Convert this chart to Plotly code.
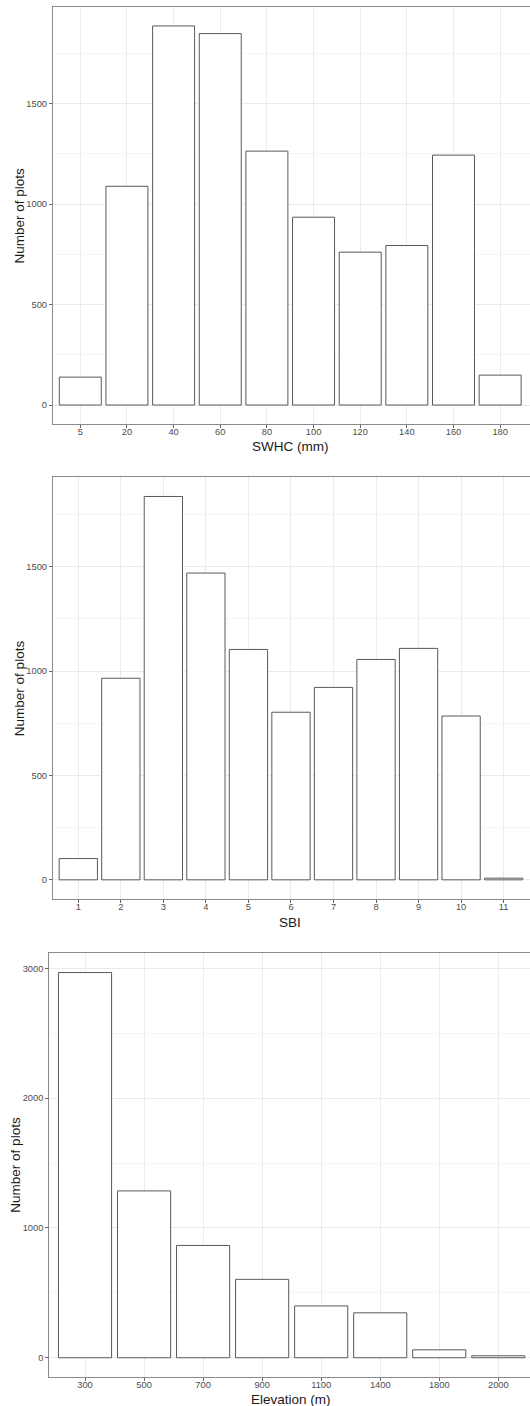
import plotly.graph_objects as go

# ---- data ----
swhc_cats = ["5", "20", "40", "60", "80", "100", "120", "140", "160", "180"]
swhc_counts = [139, 1089, 1887, 1849, 1264, 935, 761, 794, 1244, 149]

sbi_cats = ["1", "2", "3", "4", "5", "6", "7", "8", "9", "10", "11"]
sbi_counts = [102, 966, 1837, 1470, 1104, 803, 922, 1056, 1109, 785, 8]

elev_cats = ["300", "500", "700", "900", "1100", "1400", "1800", "2000"]
elev_counts = [2967, 1285, 865, 604, 399, 346, 61, 15]

y_title = "Number of plots"
x_titles = ["SWHC (mm)", "SBI", "Elevation (m)"]

# ---- layout geometry (pixels) ----
W, H = 530, 1406
FONT = "Liberation Sans, Arial, sans-serif"
TICK_COL = "#4d4d4d"
GRID = "#ebebeb"
MINOR = "#f5f5f5"
BORDER = "#8a8a8a"

panels = [
    dict(cats=swhc_cats, vals=swhc_counts, left=53, top=7, bottom=424,
         xr=[-0.585, 9.64], dtick=500, mdtick=250, title=x_titles[0],
         xt_y=446, yt_x=19, xt_x=290),
    dict(cats=sbi_cats, vals=sbi_counts, left=53, top=477.3, bottom=899,
         xr=[-0.595, 10.62], dtick=500, mdtick=250, title=x_titles[1],
         xt_y=922.5, yt_x=19, xt_x=290),
    dict(cats=elev_cats, vals=elev_counts, left=49.3, top=953.3, bottom=1377,
         xr=[-0.605, 7.537], dtick=1000, mdtick=500, title=x_titles[2],
         xt_y=1399.5, yt_x=15.5, xt_x=291),
]

fig = go.Figure()
annotations = []
for i, p in enumerate(panels, start=1):
    xa = "x" if i == 1 else f"x{i}"
    ya = "y" if i == 1 else f"y{i}"
    fig.add_trace(go.Bar(
        x=p["cats"], y=p["vals"], xaxis=xa, yaxis=ya, width=0.9,
        marker=dict(color="white", line=dict(color="#595959", width=1)),
        showlegend=False, hoverinfo="x+y",
    ))
    vmax = max(p["vals"])
    pad = 0.05 * vmax
    xkey = "xaxis" if i == 1 else f"xaxis{i}"
    ykey = "yaxis" if i == 1 else f"yaxis{i}"
    fig.update_layout(**{
        xkey: dict(
            domain=[p["left"] / W, 1.0], anchor=ya, type="category",
            range=p["xr"], showline=True, mirror=True, linecolor=BORDER,
            linewidth=1.2, ticks="outside", ticklen=3, tickcolor="#666",
            tickwidth=0.8, showgrid=True, gridcolor=GRID, gridwidth=1,
            tickfont=dict(family=FONT, size=9.3, color=TICK_COL),
            ticklabelstandoff=-4,
            zeroline=False, fixedrange=True,
        ),
        ykey: dict(
            domain=[1 - p["bottom"] / H, 1 - p["top"] / H], anchor=xa,
            range=[-pad, vmax + pad], dtick=p["dtick"], tick0=0,
            showline=True, mirror=False, linecolor=BORDER, linewidth=1.2,
            ticks="outside", ticklen=3, tickcolor="#666", tickwidth=0.8,
            showgrid=True, gridcolor=GRID, gridwidth=1,
            minor=dict(dtick=p["mdtick"], tick0=0, showgrid=True,
                       gridcolor=MINOR, gridwidth=0.6, ticks=""),
            tickfont=dict(family=FONT, size=9.3, color=TICK_COL),
            zeroline=False, fixedrange=True,
        ),
    })
    annotations.append(dict(
        text=p["title"], xref="paper", yref="paper",
        x=p["xt_x"] / W, y=1 - p["xt_y"] / H, xanchor="center",
        yanchor="middle", showarrow=False,
        font=dict(family=FONT, size=13.5, color="#1a1a1a"),
    ))
    annotations.append(dict(
        text=y_title, xref="paper", yref="paper", textangle=-90,
        x=p["yt_x"] / W, y=1 - (p["top"] + p["bottom"]) / 2 / H,
        xanchor="center", yanchor="middle", showarrow=False,
        font=dict(family=FONT, size=13.5, color="#1a1a1a"),
    ))

fig.update_layout(
    width=W, height=H, margin=dict(l=0, r=0, t=0, b=0, autoexpand=False),
    paper_bgcolor="white", plot_bgcolor="white",
    annotations=annotations, bargap=0.1,
)

fig.write_html("out.html", config={"displayModeBar": False},
               post_script="document.body.style.margin='0px';")
